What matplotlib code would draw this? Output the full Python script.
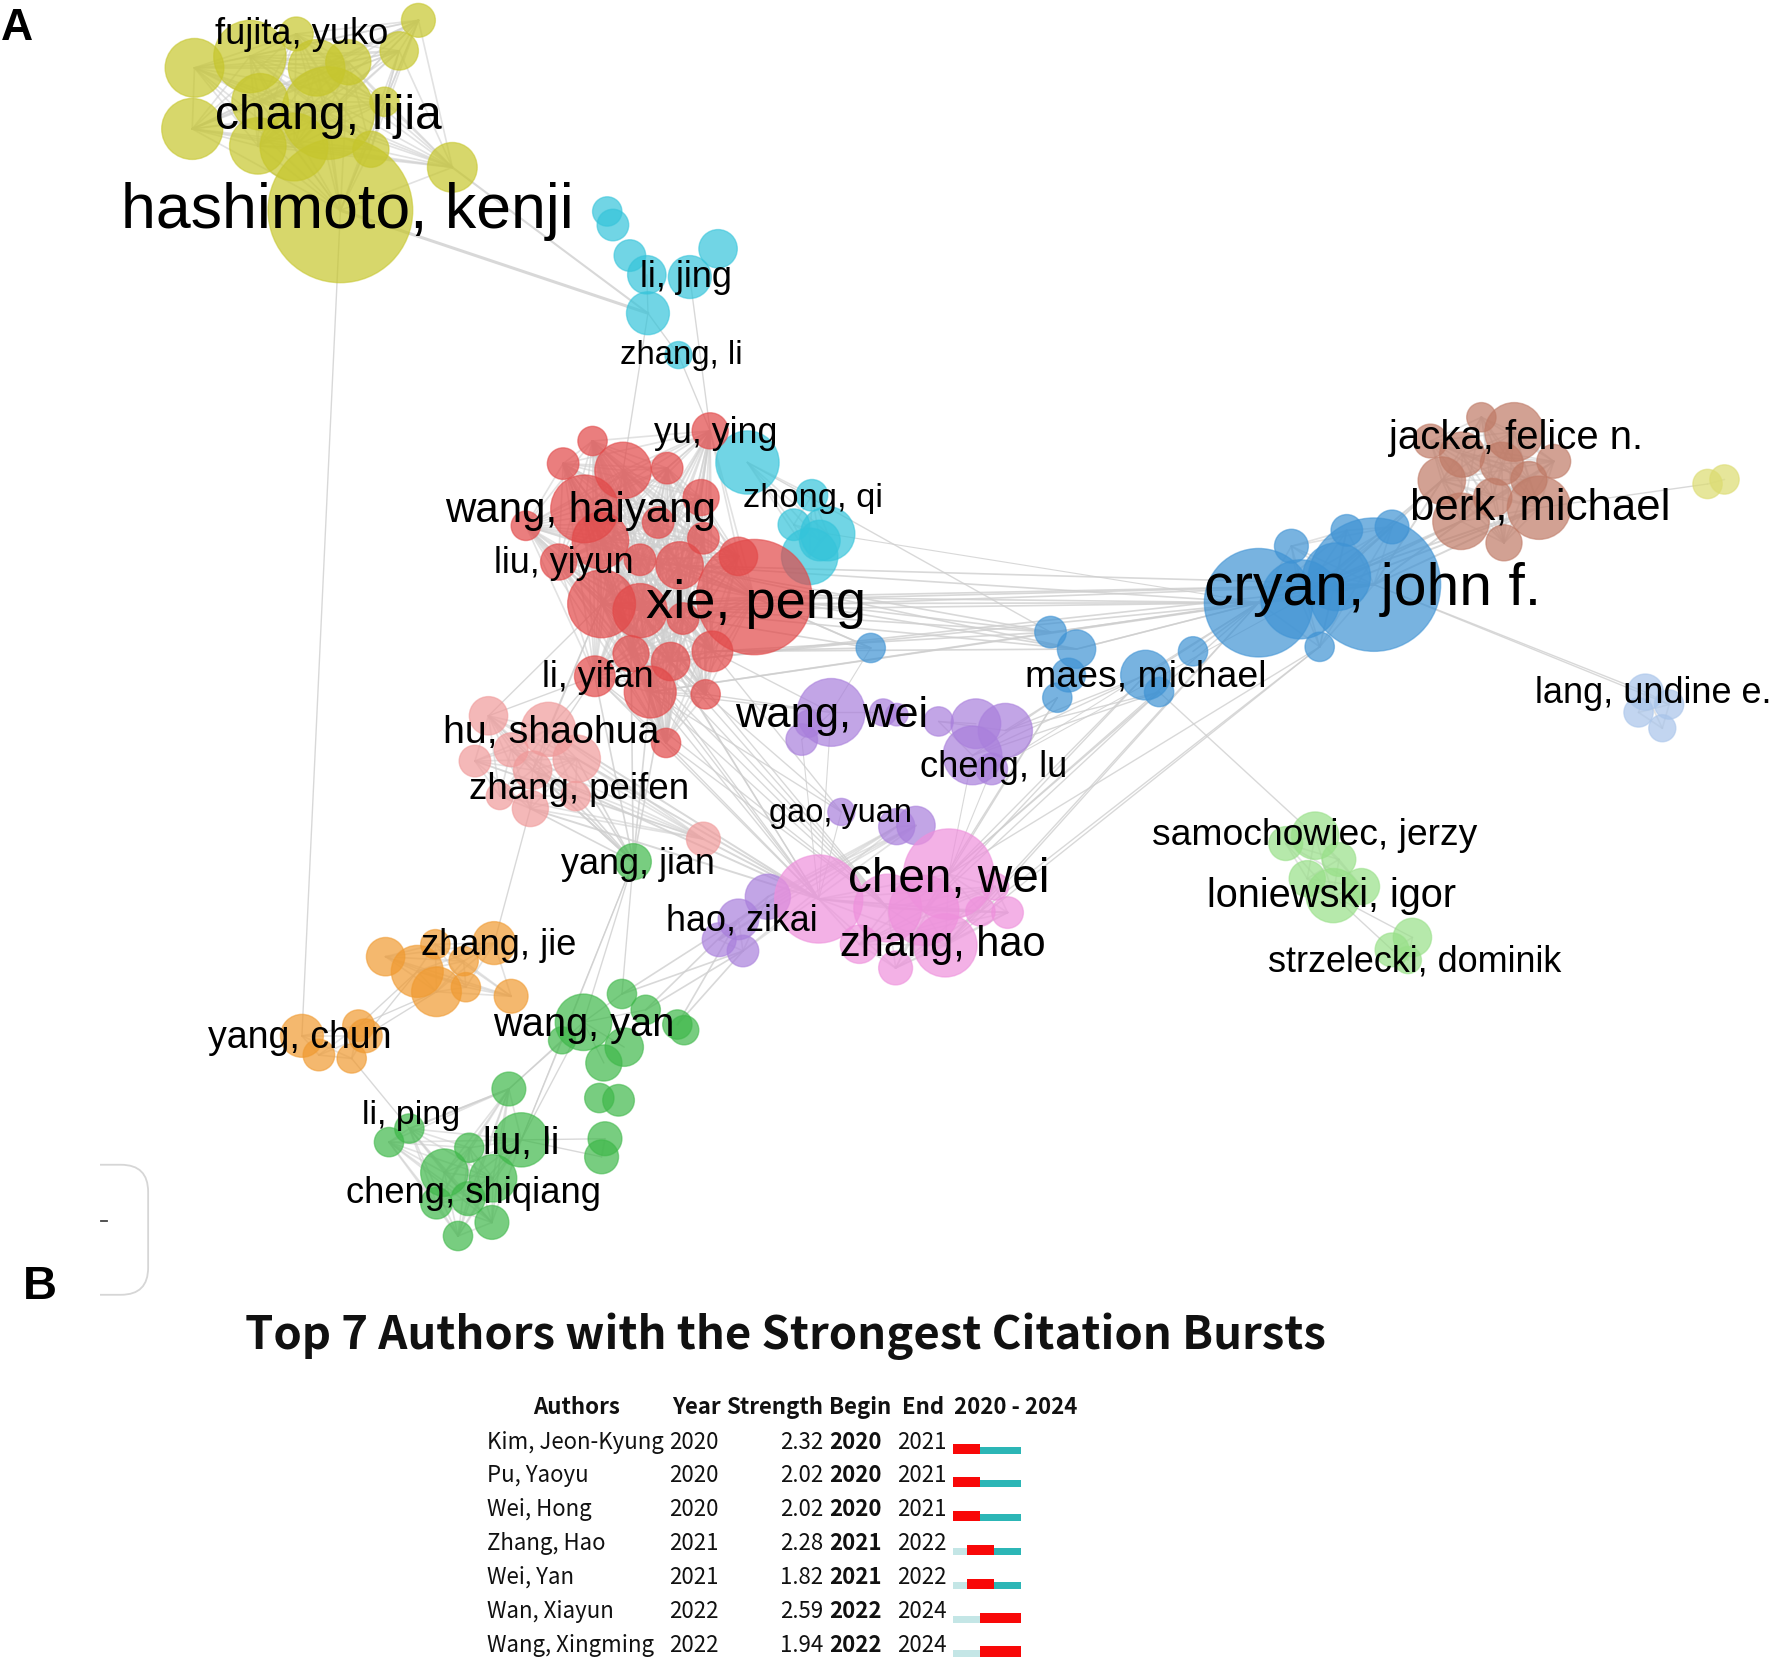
import itertools

import matplotlib
matplotlib.use("Agg")
import matplotlib.pyplot as plt
from matplotlib.patches import Circle, FancyBboxPatch, Rectangle

plt.rcParams["font.family"] = ["Liberation Sans", "DejaVu Sans"]

# nodes, one group per cluster: x, y, radius
yellow_x = [301, 290, 172, 221, 170, 228, 260, 308, 262, 353, 370, 400, 340, 328, 280, 230]
yellow_y = [186, 100, 60, 50, 114, 129, 130, 55, 30, 45, 18, 148, 90, 132, 60, 90]
yellow_r = [64, 41, 26, 32, 27, 25, 30, 20, 15, 17, 15, 22, 13, 16, 25, 25]

cyan_x = [537, 542, 557, 572, 610, 635, 573, 600]
cyan_y = [187, 199, 226, 243, 245, 220, 277, 314]
cyan_r = [13, 14, 14, 17, 19, 17, 19, 12]

cyan2_x = [661, 718, 702, 732, 716, 725]
cyan2_y = [409, 438, 464, 472, 492, 478]
cyan2_r = [28, 14, 14, 24, 25, 18]

red_x = [667, 532, 517, 551, 566, 601, 653, 628, 524, 498, 590, 620, 465, 582, 622, 531,
         494, 566, 604, 558, 593, 630, 526, 575, 624, 589]
red_y = [528, 534, 450, 416, 540, 500, 492, 381, 390, 410, 414, 440, 465, 462, 476, 478,
         497, 495, 547, 578, 585, 576, 598, 612, 614, 657]
red_r = [51, 30, 30, 25, 24, 21, 17, 16, 13, 14, 14, 16, 13, 14, 14, 25,
         16, 14, 14, 16, 17, 18, 18, 23, 13, 13]

pink_x = [432, 485, 420, 452, 471, 510, 442, 469, 509, 622]
pink_y = [633, 645, 673, 663, 681, 671, 704, 715, 704, 742]
pink_r = [17, 24, 14, 15, 17, 21, 12, 16, 13, 15]

purple_x = [735, 709, 715, 781, 793, 830, 863, 889, 860, 877, 744]
purple_y = [630, 654, 640, 630, 632, 638, 640, 646, 668, 680, 718]
purple_r = [30, 14, 12, 12, 10, 13, 22, 24, 26, 14, 12]

purple2_x = [793, 810, 679, 653, 636, 657]
purple2_y = [731, 730, 793, 813, 831, 841]
purple2_r = [16, 17, 20, 18, 15, 14]

magenta_x = [724, 839, 785, 817, 836, 760, 792, 891, 867, 880]
magenta_y = [795, 773, 803, 805, 836, 835, 856, 807, 806, 784]
magenta_r = [39, 40, 30, 31, 28, 17, 15, 14, 13, 12]

blue_x = [1215, 1113, 1150, 1182, 1142, 1191, 1231, 1167]
blue_y = [517, 533, 530, 510, 483, 469, 466, 572]
blue_r = [59, 48, 35, 30, 15, 14, 15, 13]

blue2_x = [770, 929, 952, 945, 935, 1013, 1025, 1055]
blue2_y = [573, 559, 574, 597, 617, 597, 612, 576]
blue2_r = [13, 14, 17, 15, 13, 22, 13, 13]

brown_x = [1310, 1339, 1265, 1293, 1328, 1374, 1275, 1352, 1292, 1330, 1361, 1320]
brown_y = [369, 382, 390, 402, 410, 408, 425, 424, 461, 480, 449, 440]
brown_r = [13, 26, 15, 20, 19, 15, 21, 16, 25, 16, 28, 17]

olive_x = [1510, 1525]
olive_y = [428, 424]
olive_r = [13, 13]

paleblue_x = [1455, 1476, 1449, 1470]
paleblue_y = [612, 623, 630, 644]
paleblue_r = [16, 13, 13, 12]

lime_x = [1163, 1137, 1184, 1156, 1179, 1204]
lime_y = [739, 746, 760, 777, 792, 784]
lime_r = [21, 15, 15, 16, 24, 16]

lime2_x = [1249, 1231, 1245]
lime2_y = [829, 840, 849]
lime2_r = [17, 15, 12]

orange_x = [341, 369, 385, 437, 410, 412, 386, 452]
orange_y = [846, 859, 835, 834, 850, 873, 877, 881]
orange_r = [17, 23, 13, 19, 13, 13, 22, 15]

orange2_x = [267, 317, 282, 311, 323]
orange2_y = [916, 907, 933, 936, 916]
orange2_r = [19, 14, 14, 13, 15]

jian_x = [560]
jian_y = [762]
jian_r = [16]

green_x = [516, 550, 571, 497, 599, 605, 552, 534, 530, 547]
green_y = [904, 879, 893, 920, 906, 911, 926, 940, 971, 973]
green_r = [25, 13, 13, 12, 13, 13, 17, 16, 13, 14]

green2_x = [461, 450, 362, 344, 415, 393, 436, 386, 414, 435, 405]
green2_y = [1008, 963, 998, 1010, 1015, 1037, 1042, 1064, 1060, 1081, 1093]
green2_r = [24, 15, 13, 13, 13, 21, 21, 14, 15, 15, 13]

green3_x = [535, 532]
green3_y = [1007, 1023]
green3_r = [15, 15]

clusters = {
    "yellow": (yellow_x, yellow_y, yellow_r, "#c6c62c"),
    "cyan": (cyan_x, cyan_y, cyan_r, "#35c4da"),
    "cyan2": (cyan2_x, cyan2_y, cyan2_r, "#35c4da"),
    "pink": (pink_x, pink_y, pink_r, "#f09a9a"),
    "red": (red_x, red_y, red_r, "#e24848"),
    "purple": (purple_x, purple_y, purple_r, "#a97fdc"),
    "purple2": (purple2_x, purple2_y, purple2_r, "#a97fdc"),
    "magenta": (magenta_x, magenta_y, magenta_r, "#ee90dc"),
    "blue": (blue_x, blue_y, blue_r, "#3f93d4"),
    "blue2": (blue2_x, blue2_y, blue2_r, "#3f93d4"),
    "brown": (brown_x, brown_y, brown_r, "#bf7a66"),
    "olive": (olive_x, olive_y, olive_r, "#dcdc70"),
    "paleblue": (paleblue_x, paleblue_y, paleblue_r, "#a8c4ea"),
    "lime": (lime_x, lime_y, lime_r, "#98e088"),
    "lime2": (lime2_x, lime2_y, lime2_r, "#98e088"),
    "orange": (orange_x, orange_y, orange_r, "#f09a30"),
    "orange2": (orange2_x, orange2_y, orange2_r, "#f09a30"),
    "jian": (jian_x, jian_y, jian_r, "#3fb84a"),
    "green": (green_x, green_y, green_r, "#3fb84a"),
    "green2": (green2_x, green2_y, green2_r, "#3fb84a"),
    "green3": (green3_x, green3_y, green3_r, "#3fb84a"),
}
no_inner_links = ["cyan", "purple", "green", "blue2"]

# links between clusters: cluster, node ids, cluster, node ids, line width
bridges = [
    ("yellow", [0], "cyan", [6], 2.2),
    ("yellow", [11], "cyan", [6], 1.5),
    ("yellow", [0], "orange2", [0], 1.0),
    ("cyan", [6], "red", [3], 1.0),
    ("cyan", [6], "cyan", [7, 3], 1.0),
    ("cyan", [7], "red", [7], 1.0),
    ("cyan", [4], "red", [7], 1.0),
    ("red", [0, 1, 4, 5, 20, 23], "blue", [0, 1], 1.2),
    ("red", [0, 1, 5, 21], "blue2", [0, 1, 2], 1.2),
    ("cyan2", [0], "blue2", [1], 1.0),
    ("cyan2", [3], "blue", [1], 0.8),
    ("red", [1, 4, 19, 20, 22, 23, 25], "magenta", [0, 2], 1.0),
    ("red", [21, 23, 24], "purple", [0, 10], 1.0),
    ("red", [19, 20, 22, 23], "jian", [0], 1.2),
    ("red", [1, 22], "pink", [0, 1, 4], 1.0),
    ("pink", [0, 1, 3, 4, 5, 7, 8], "jian", [0], 1.2),
    ("pink", [1, 4, 5, 7, 9], "magenta", [0], 1.4),
    ("pink", [7], "orange", [3], 1.0),
    ("blue2", [0], "purple", [0], 0.8),
    ("blue2", [4, 5, 6], "purple", [7, 8], 1.0),
    ("blue2", [4, 5, 6], "magenta", [1, 3], 1.0),
    ("blue", [1, 7], "magenta", [1, 4, 8], 1.0),
    ("blue", [1, 2], "purple", [9], 0.8),
    ("blue", [1], "blue2", [7, 5, 2], 1.2),
    ("blue2", [1, 2], "blue", [1], 1.0),
    ("blue2", [6], "lime", [0], 1.0),
    ("blue", [0], "paleblue", [0, 1], 1.0),
    ("blue", [0, 2, 3], "brown", [6, 8, 10], 1.4),
    ("brown", [10], "olive", [0], 1.0),
    ("magenta", [0], "purple", [0, 1, 10], 0.8),
    ("magenta", [1], "purple", [8, 9], 0.8),
    ("purple", [0], "purple", [1, 3], 1.0),
    ("purple", [5], "purple", [6, 7, 8], 1.0),
    ("lime", [4], "lime2", [0, 1], 1.0),
    ("jian", [0], "green", [0, 1, 3], 1.0),
    ("jian", [0], "green2", [0], 0.8),
    ("purple2", [3, 5], "green", [1, 2, 4], 1.2),
    ("orange", [1, 6], "orange2", [1, 4], 1.0),
    ("orange2", [3], "green2", [2], 1.0),
    ("green", [0, 3], "green2", [0, 1], 1.0),
    ("green2", [0], "green3", [0, 1], 1.0),
    ("green", [0], "green", [1, 2, 6, 7], 1.0),
    ("green2", [1], "green2", [2], 1.4),
]

# author labels: text, left, right, vertical middle
label_names = [
    "fujita, yuko", "chang, lijia", "hashimoto, kenji", "li, jing", "zhang, li", "yu, ying",
    "wang, haiyang", "zhong, qi", "liu, yiyun", "xie, peng", "li, yifan", "hu, shaohua",
    "wang, wei", "cheng, lu", "zhang, peifen", "gao, yuan", "yang, jian", "chen, wei",
    "hao, zikai", "zhang, jie", "zhang, hao", "wang, yan", "yang, chun", "li, ping",
    "liu, li", "cheng, shiqiang", "jacka, felice n.", "berk, michael", "cryan, john f.",
    "maes, michael", "lang, undine e.", "samochowiec, jerzy", "loniewski, igor",
    "strzelecki, dominik",
]
label_left = [190, 190, 107, 566, 548, 578, 394, 657, 437, 571, 479, 392, 650, 814, 415, 680, 496,
              750, 589, 372, 743, 436, 184, 320, 427, 306, 1228, 1247, 1065, 906, 1357, 1019, 1067, 1121]
label_right = [343, 390, 507, 648, 656, 687, 633, 780, 561, 766, 578, 583, 820, 944, 609, 806, 632,
               928, 723, 509, 924, 596, 346, 407, 495, 531, 1452, 1477, 1362, 1119, 1566, 1306, 1288, 1381]
label_mid = [27, 99, 181, 242, 311, 380, 448, 438, 495, 529, 596, 645, 629, 675, 695, 716, 761,
             773, 811, 833, 832, 903, 914, 983, 1008, 1052, 384, 445, 516, 595, 610, 735, 789, 847]

# burst table
table_title = "Top 7 Authors with the Strongest Citation Bursts"
table_authors = ["Kim, Jeon-Kyung", "Pu, Yaoyu", "Wei, Hong", "Zhang, Hao", "Wei, Yan", "Wan, Xiayun", "Wang, Xingming"]
table_year = [2020, 2020, 2020, 2021, 2021, 2022, 2022]
table_strength = [2.32, 2.02, 2.02, 2.28, 1.82, 2.59, 1.94]
table_begin = [2020, 2020, 2020, 2021, 2021, 2022, 2022]
table_end = [2021, 2021, 2021, 2022, 2022, 2024, 2024]
timeline_start, timeline_stop = 2020, 2024

W, H = 1772, 1662
UNIT = W / 1567  # picture pixels per axis unit

fig = plt.figure(figsize=(W / 100, H / 100), dpi=100)
ax = fig.add_axes([0, 0, 1, 1])
ax.set_xlim(0, 1567)
ax.set_ylim(H / UNIT, 0)
ax.axis("off")


def link(a, i, b, j, lw, alpha=0.8):
    xa, ya = clusters[a][:2]
    xb, yb = clusters[b][:2]
    ax.plot([xa[i], xb[j]], [ya[i], yb[j]], color="#cfcfcf", lw=lw, alpha=alpha, zorder=1,
            solid_capstyle="round")


for name, (xs, ys, rs, col) in clusters.items():
    if name in no_inner_links:
        continue
    for i, j in itertools.combinations(range(len(xs)), 2):
        link(name, i, name, j, 1.2, 0.6)

for a, ids_a, b, ids_b, lw in bridges:
    for i in ids_a:
        for j in ids_b:
            if (a, i) != (b, j):
                link(a, i, b, j, lw)

for name, (xs, ys, rs, col) in clusters.items():
    for x, y, r in zip(xs, ys, rs):
        ax.add_patch(Circle((x, y), r, facecolor=col, edgecolor="none", alpha=0.7, zorder=2))
        ax.add_patch(Circle((x, y), r, facecolor="none", edgecolor=col, lw=1.0, alpha=0.55, zorder=2))

renderer = fig.canvas.get_renderer()


def fit_text(s, left, right, y, **kw):
    t = ax.text(left, y, s, fontsize=20, ha="left", va="center_baseline", zorder=5, **kw)
    w = t.get_window_extent(renderer).width
    t.set_fontsize(20 * (right - left) * UNIT / w)
    return t


for s, l, r, m in zip(label_names, label_left, label_right, label_mid):
    fit_text(s, l, r, m, color="#000000")

# panel letters and leftover box from the source figure
ax.text(1, 25, "A", fontsize=32, fontweight="bold", family="Liberation Sans", ha="left", va="center")
ax.text(20, 1138, "B", fontsize=34, fontweight="bold", family="Liberation Sans", ha="left", va="center")
box = FancyBboxPatch((40, 1030), 91, 115, boxstyle="round,pad=0,rounding_size=24",
                     facecolor="none", edgecolor="#d6d6d6", lw=1.3, zorder=1)
ax.add_patch(box)
box.set_clip_path(Rectangle((88, 1020), 60, 140, transform=ax.transData))
ax.plot([89, 95], [1080, 1080], color="#444444", lw=1.3)

# table
table_font = ["Noto Sans CJK SC", "DejaVu Sans"]
fit_text(table_title, 217, 1175, 1177, family=table_font, fontweight="bold", color="#111111")

header_y = 1245
row_y = [1276, 1305, 1335, 1365, 1395, 1425, 1455]
fs = 16
head = dict(fontsize=fs, fontweight="bold", family=table_font, va="center", color="#111111")
ax.text(510, header_y, "Authors", ha="center", **head)
ax.text(594, header_y, "Year", ha="left", **head)
ax.text(642, header_y, "Strength", ha="left", **head)
ax.text(733, header_y, "Begin", ha="left", **head)
ax.text(798, header_y, "End", ha="left", **head)
ax.text(844, header_y, f"{timeline_start} - {timeline_stop}", ha="left", **head)

cell = dict(fontsize=fs, family=table_font, va="center", color="#111111")
span = timeline_stop - timeline_start + 1
bar_left, bar_width = 843, 59.5
year_w = bar_width / span
for i, y in enumerate(row_y):
    ax.text(431, y, table_authors[i], ha="left", **cell)
    ax.text(592, y, str(table_year[i]), ha="left", **cell)
    ax.text(728, y, f"{table_strength[i]:.2f}", ha="right", **cell)
    ax.text(733, y, str(table_begin[i]), ha="left", fontweight="bold", **cell)
    ax.text(793, y, str(table_end[i]), ha="left", **cell)

    base = y + 10
    b0 = table_begin[i] - timeline_start
    b1 = table_end[i] - timeline_start + 1
    if b0 > 0:
        ax.barh(base - 3, b0 * year_w, left=bar_left, height=6, color="#c4e6e6", zorder=2)
    ax.barh(base - 4.5, (b1 - b0) * year_w, left=bar_left + b0 * year_w, height=9, color="#f80808", zorder=3)
    if b1 < span:
        ax.barh(base - 3, (span - b1) * year_w, left=bar_left + b1 * year_w, height=6, color="#2cb6b6", zorder=2)

fig.savefig("out.png", dpi=100, facecolor="white")
